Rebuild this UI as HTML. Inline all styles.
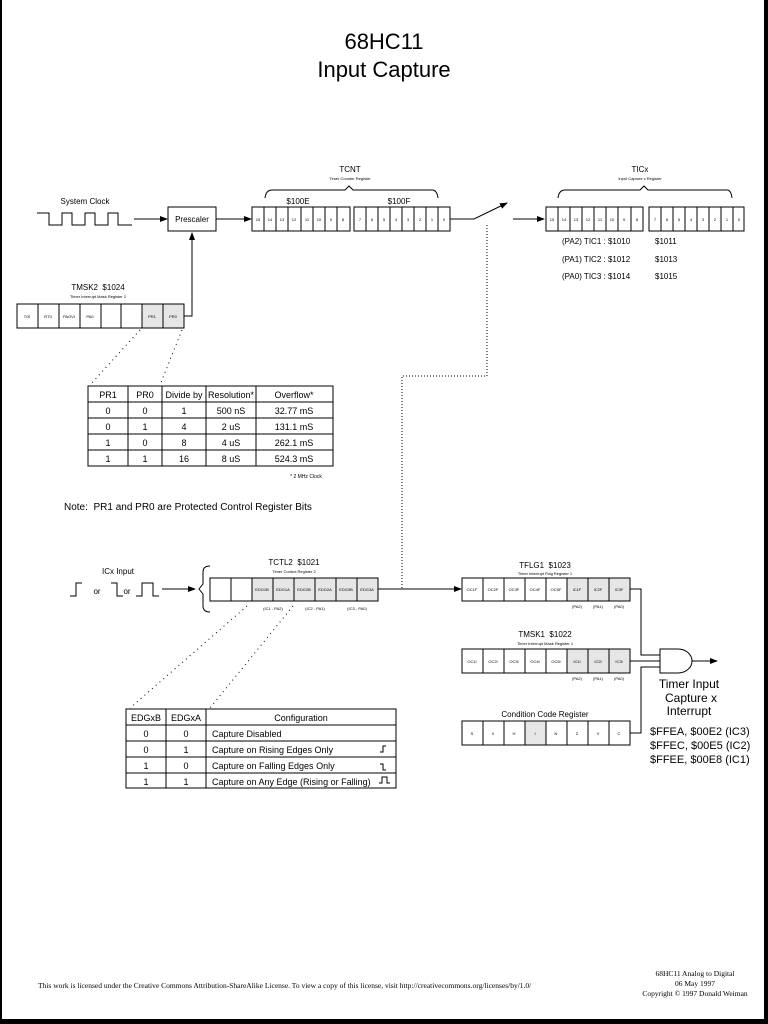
<!DOCTYPE html>
<html><head><meta charset="utf-8"><style>
html,body{margin:0;padding:0;background:#fff}
svg{display:block}
text{font-family:"Liberation Sans",sans-serif;fill:#000}
.s{font-size:4px}
.t{font-size:8px}
</style></head><body>
<svg width="768" height="1024" viewBox="0 0 768 1024" xmlns="http://www.w3.org/2000/svg">
<defs><marker id="a" markerWidth="8" markerHeight="8" refX="7" refY="4" orient="auto" markerUnits="userSpaceOnUse"><path d="M0,1 L8,4 L0,7z" fill="#000"/></marker></defs>
<rect x="0" y="0" width="768" height="1024" fill="#fff"/>
<rect x="0" y="0" width="2" height="1024" fill="#000"/>
<rect x="764" y="0" width="4" height="1024" fill="#000"/>
<rect x="0" y="1019" width="768" height="5" fill="#000"/>

<text x="384" y="49" font-size="22" text-anchor="middle">68HC11</text>
<text x="384" y="77" font-size="22" text-anchor="middle">Input Capture</text>

<g fill="none" stroke="#000" stroke-width="1">
<path d="M37,213 H49 V225 H62 V213 H72 V225 H85 V213 H95 V225 H108 V213 H118 V225 H132"/>
<line x1="134" y1="219" x2="167" y2="219" marker-end="url(#a)"/>
<rect x="168" y="207" width="48" height="24"/>
<line x1="216" y1="219" x2="251" y2="219" marker-end="url(#a)"/>
<rect x="252" y="207" width="98" height="24"/>
<rect x="354" y="207" width="96" height="24"/>
<path d="M265,198 Q266,190 272,190 H345 L349,186 L353,190 H432 Q437,190 438,198"/>
<path d="M450,219 H474 L507,203" marker-end="url(#a)"/>
<line x1="513" y1="219" x2="544" y2="219" marker-end="url(#a)"/>
<rect x="546" y="207" width="97" height="24"/>
<rect x="649" y="207" width="95" height="24"/>
<path d="M558,198 Q559,190 565,190 H640 L644,186 L648,190 H727 Q731,190 732,198"/>
<path d="M487,225 V376 H402 V589" stroke-dasharray="1,2"/>
<rect x="17" y="304" width="167" height="24"/>
<path d="M184,316 H192 V233" marker-end="url(#a)"/>
<path d="M140,330 L90,385 M182,330 L160,385" stroke-dasharray="1,4"/>
<rect x="88" y="386" width="245" height="80"/>
<path d="M128,386V466M162,386V466M206,386V466M256,386V466M88,402H333M88,418H333M88,434H333M88,450H333"/>
<path d="M70,596 H76 V583 H82"/>
<path d="M111,583 H117 V596 H123"/>
<path d="M136,596 H142 V583 H153 V596 H159"/>
<line x1="162" y1="589" x2="195" y2="589" marker-end="url(#a)"/>
<path d="M210,566 Q203,566 203,572 V584 L199,589 L203,594 V606 Q203,612 210,612"/>
<rect x="210" y="578" width="168" height="23"/>
<line x1="378" y1="589" x2="461" y2="589" marker-end="url(#a)"/>
<path d="M247,606 L130,708 M293,606 L210,708" stroke-dasharray="1,4"/>
<rect x="126" y="709" width="270" height="79"/>
<path d="M166,709V788M206,709V788M126,725H396M126,741H396M126,757H396M126,773H396"/>
<rect x="462" y="578" width="168" height="23"/>
<rect x="462" y="649" width="168" height="24"/>
<rect x="462" y="721" width="168" height="24"/>
<path d="M630,589 H641 V655 H660 M630,661 H660 M630,733 H641 V667 H660"/>
<path d="M660,649 H678 A14,12 0 0 1 678,673 H660 Z"/>
<line x1="692" y1="661" x2="717" y2="661" marker-end="url(#a)"/>
</g>

<g fill="#e6e6e6" stroke="#000" stroke-width="1">
<rect x="142" y="304" width="21" height="24"/><rect x="163" y="304" width="21" height="24"/>
<rect x="252" y="578" width="126" height="23"/>
<rect x="567" y="578" width="63" height="23"/>
<rect x="567" y="649" width="63" height="24"/>
<rect x="525" y="721" width="21" height="24"/>
</g>
<g stroke="#000" stroke-width="1">
<path d="M264,207V231M276,207V231M288,207V231M301,207V231M313,207V231M325,207V231M337,207V231"/>
<path d="M366,207V231M378,207V231M390,207V231M402,207V231M414,207V231M426,207V231M438,207V231"/>
<path d="M558,207V231M570,207V231M582,207V231M594,207V231M606,207V231M618,207V231M631,207V231"/>
<path d="M661,207V231M673,207V231M685,207V231M697,207V231M709,207V231M721,207V231M733,207V231"/>
<path d="M38,304V328M59,304V328M80,304V328M101,304V328M121,304V328M142,304V328M163,304V328"/>
<path d="M231,578V601M252,578V601M273,578V601M294,578V601M315,578V601M336,578V601M357,578V601"/>
<path d="M483,578V601M504,578V601M525,578V601M546,578V601M567,578V601M588,578V601M609,578V601"/>
<path d="M483,649V673M504,649V673M525,649V673M546,649V673M567,649V673M588,649V673M609,649V673"/>
<path d="M483,721V745M504,721V745M525,721V745M546,721V745M567,721V745M588,721V745M609,721V745"/>
</g>

<text x="85" y="204" class="t" text-anchor="middle">System Clock</text>
<text x="192" y="222" class="t" text-anchor="middle">Prescaler</text>
<text x="350" y="172" class="t" text-anchor="middle">TCNT</text>
<text x="350" y="180" class="s" text-anchor="middle">Timer Counter Register</text>
<text x="298" y="204" class="t" text-anchor="middle">$100E</text>
<text x="399" y="204" class="t" text-anchor="middle">$100F</text>
<g class="s" text-anchor="middle" font-size="4">
<text x="258" y="221">15</text><text x="270" y="221">14</text><text x="282" y="221">13</text><text x="294" y="221">12</text><text x="307" y="221">11</text><text x="319" y="221">10</text><text x="331" y="221">9</text><text x="343" y="221">8</text>
<text x="360" y="221">7</text><text x="372" y="221">6</text><text x="384" y="221">5</text><text x="396" y="221">4</text><text x="408" y="221">3</text><text x="420" y="221">2</text><text x="432" y="221">1</text><text x="444" y="221">0</text>
<text x="552" y="221">15</text><text x="564" y="221">14</text><text x="576" y="221">13</text><text x="588" y="221">12</text><text x="600" y="221">11</text><text x="612" y="221">10</text><text x="624" y="221">9</text><text x="637" y="221">8</text>
<text x="655" y="221">7</text><text x="667" y="221">6</text><text x="679" y="221">5</text><text x="691" y="221">4</text><text x="703" y="221">3</text><text x="715" y="221">2</text><text x="727" y="221">1</text><text x="739" y="221">0</text>
<text x="27" y="318">TOI</text><text x="48" y="318">RTII</text><text x="69" y="318">PAOVI</text><text x="90" y="318">PAII</text><text x="152" y="318">PR1</text><text x="173" y="318">PR0</text>
<text x="262" y="591">EDG1B</text><text x="283" y="591">EDG1A</text><text x="304" y="591">EDG2B</text><text x="325" y="591">EDG2A</text><text x="346" y="591">EDG3B</text><text x="367" y="591">EDG3A</text>
<text x="273" y="610">(IC1 - PA2)</text><text x="315" y="610">(IC2 - PA1)</text><text x="357" y="610">(IC3 - PA0)</text>
<text x="472" y="591">OC1F</text><text x="493" y="591">OC2F</text><text x="514" y="591">OC3F</text><text x="535" y="591">OC4F</text><text x="556" y="591">OC5F</text><text x="577" y="591">IC1F</text><text x="598" y="591">IC2F</text><text x="619" y="591">IC3F</text>
<text x="577" y="608">(PA2)</text><text x="598" y="608">(PA1)</text><text x="619" y="608">(PA0)</text>
<text x="472" y="663">OC1I</text><text x="493" y="663">OC2I</text><text x="514" y="663">OC3I</text><text x="535" y="663">OC4I</text><text x="556" y="663">OC5I</text><text x="577" y="663">IC1I</text><text x="598" y="663">IC2I</text><text x="619" y="663">IC3I</text>
<text x="577" y="680">(PA2)</text><text x="598" y="680">(PA1)</text><text x="619" y="680">(PA0)</text>
<text x="472" y="735">S</text><text x="493" y="735">X</text><text x="514" y="735">H</text><text x="535" y="735">I</text><text x="556" y="735">N</text><text x="577" y="735">Z</text><text x="598" y="735">V</text><text x="619" y="735">C</text>
</g>
<text x="640" y="172" class="t" text-anchor="middle">TICx</text>
<text x="640" y="180" class="s" text-anchor="middle">Input Capture x Register</text>
<g class="t" xml:space="preserve">
<text x="562" y="244">(PA2) TIC1 :  $1010</text><text x="655" y="244">$1011</text>
<text x="562" y="262">(PA1) TIC2 :  $1012</text><text x="655" y="262">$1013</text>
<text x="562" y="279">(PA0) TIC3 :  $1014</text><text x="655" y="279">$1015</text>
</g>
<text x="98" y="290" class="t" text-anchor="middle" xml:space="preserve">TMSK2  $1024</text>
<text x="98" y="298" class="s" text-anchor="middle">Timer Interrupt Mask Register 2</text>

<g font-size="9" text-anchor="middle">
<text x="108" y="398">PR1</text><text x="145" y="398">PR0</text><text x="184" y="398">Divide by</text><text x="231" y="398">Resolution*</text><text x="294" y="398">Overflow*</text>
<text x="108" y="414">0</text><text x="145" y="414">0</text><text x="184" y="414">1</text><text x="231" y="414">500 nS</text><text x="294" y="414">32.77 mS</text>
<text x="108" y="430">0</text><text x="145" y="430">1</text><text x="184" y="430">4</text><text x="231" y="430">2 uS</text><text x="294" y="430">131.1 mS</text>
<text x="108" y="446">1</text><text x="145" y="446">0</text><text x="184" y="446">8</text><text x="231" y="446">4 uS</text><text x="294" y="446">262.1 mS</text>
<text x="108" y="462">1</text><text x="145" y="462">1</text><text x="184" y="462">16</text><text x="231" y="462">8 uS</text><text x="294" y="462">524.3 mS</text>
</g>
<text x="306" y="478" text-anchor="middle" font-size="5">* 2 MHz Clock</text>
<text x="64" y="510" font-size="10" xml:space="preserve">Note:  PR1 and PR0 are Protected Control Register Bits</text>

<text x="118" y="574" class="t" text-anchor="middle">ICx Input</text>
<text x="97" y="594" class="t" text-anchor="middle">or</text>
<text x="127" y="594" class="t" text-anchor="middle">or</text>
<text x="294" y="565" class="t" text-anchor="middle" xml:space="preserve">TCTL2  $1021</text>
<text x="294" y="573" class="s" text-anchor="middle">Timer Control Register 2</text>
<text x="545" y="568" class="t" text-anchor="middle" xml:space="preserve">TFLG1  $1023</text>
<text x="545" y="575" class="s" text-anchor="middle">Timer Interrupt Flag Register 1</text>
<text x="545" y="637" class="t" text-anchor="middle" xml:space="preserve">TMSK1  $1022</text>
<text x="545" y="645" class="s" text-anchor="middle">Timer Interrupt Mask Register 1</text>
<text x="545" y="717" class="t" text-anchor="middle">Condition Code Register</text>

<g font-size="9">
<text x="146" y="721" text-anchor="middle">EDGxB</text><text x="186" y="721" text-anchor="middle">EDGxA</text><text x="301" y="721" text-anchor="middle">Configuration</text>
<text x="146" y="737" text-anchor="middle">0</text><text x="186" y="737" text-anchor="middle">0</text><text x="212" y="737">Capture Disabled</text>
<text x="146" y="753" text-anchor="middle">0</text><text x="186" y="753" text-anchor="middle">1</text><text x="212" y="753">Capture on Rising Edges Only</text>
<text x="146" y="769" text-anchor="middle">1</text><text x="186" y="769" text-anchor="middle">0</text><text x="212" y="769">Capture on Falling Edges Only</text>
<text x="146" y="785" text-anchor="middle">1</text><text x="186" y="785" text-anchor="middle">1</text><text x="212" y="785">Capture on Any Edge (Rising or Falling)</text>
</g>
<g fill="none" stroke="#000" stroke-width="1">
<path d="M380,752 H383 V746 H386"/>
<path d="M380,764 H383 V770 H386"/>
<path d="M379,783 H382 V777 H387 V783 H390"/>
</g>

<g font-size="12" text-anchor="middle">
<text x="689" y="688">Timer Input</text>
<text x="691" y="702">Capture x</text>
<text x="689" y="715">Interrupt</text>
</g>
<g font-size="11" xml:space="preserve">
<text x="650" y="735">$FFEA,  $00E2  (IC3)</text>
<text x="650" y="749">$FFEC,  $00E5  (IC2)</text>
<text x="650" y="763">$FFEE,  $00E8  (IC1)</text>
</g>

<g font-size="7.5" xml:space="preserve">
<text x="38" y="988" style="font-family:'Liberation Serif',serif">This work is licensed under the Creative Commons Attribution-ShareAlike License.  To view a copy of this license, visit  http://creativecommons.org/licenses/by/1.0/</text>
<text x="695" y="976" text-anchor="middle" style="font-family:'Liberation Serif',serif">68HC11 Analog to Digital</text>
<text x="695" y="986" text-anchor="middle" style="font-family:'Liberation Serif',serif">06 May 1997</text>
<text x="695" y="996" text-anchor="middle" style="font-family:'Liberation Serif',serif">Copyright © 1997 Donald Weiman</text>
</g>
</svg>
</body></html>
